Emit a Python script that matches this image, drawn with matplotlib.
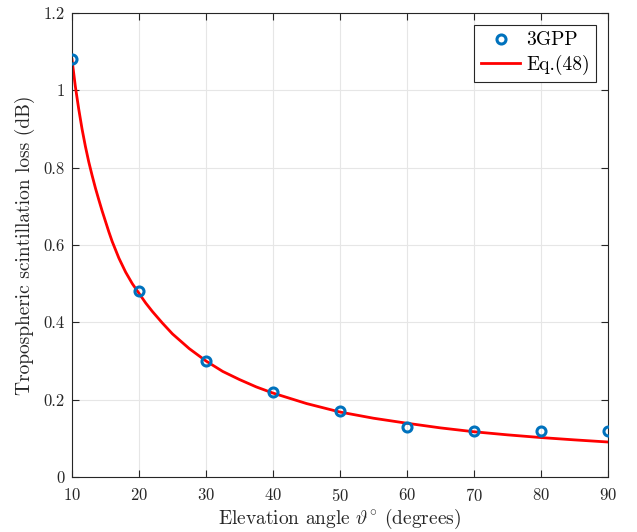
import matplotlib
matplotlib.use("Agg")
import matplotlib.pyplot as plt

plt.rcParams['font.family'] = 'serif'
plt.rcParams['font.serif'] = ['cmr10', 'DejaVu Serif']
plt.rcParams['mathtext.fontset'] = 'cm'
plt.rcParams['axes.formatter.use_mathtext'] = True

elev_3gpp = [10, 20, 30, 40, 50, 60, 70, 80, 90]
loss_3gpp = [1.08, 0.48, 0.30, 0.22, 0.17, 0.13, 0.12, 0.12, 0.12]

elev_eq = [10, 10.5, 11, 11.5, 12, 12.5, 13, 13.5, 14, 14.5, 15, 15.5, 16, 17,
           18, 19, 20, 21, 22, 23.5, 25, 27.5, 30, 32.5, 35, 37.5, 40,
           45, 50, 55, 60, 65, 70, 75, 80, 85, 90]
loss_eq = [1.08, 1.01, 0.952, 0.9, 0.855, 0.815, 0.78, 0.747, 0.717, 0.688,
           0.661, 0.634, 0.609, 0.566, 0.53, 0.5, 0.475, 0.45, 0.428, 0.398,
           0.37, 0.332, 0.30, 0.273, 0.252, 0.233, 0.217, 0.19, 0.168, 0.152,
           0.139, 0.127, 0.117, 0.109, 0.102, 0.096, 0.0905]

xticks = [10, 20, 30, 40, 50, 60, 70, 80, 90]
yticks = [0, 0.2, 0.4, 0.6, 0.8, 1.0, 1.2]
yticklabels = ['0', '0.2', '0.4', '0.6', '0.8', '1', '1.2']

fig = plt.figure(figsize=(6.37, 5.32), dpi=100)
ax = fig.add_axes([72/637, 1-477/532, (608-72)/637, (477-13)/532])

ax.plot(elev_3gpp, loss_3gpp, 'o', mfc='none', mec='#0072BD', mew=2.2, ms=6.5,
        label='3GPP', zorder=3)
ax.plot(elev_eq, loss_eq, '-', color='red', lw=2, label='Eq.(48)', zorder=2,
        solid_joinstyle='round')

ax.set_xlim(10, 90)
ax.set_ylim(0, 1.2)
ax.set_xticks(xticks)
ax.set_yticks(yticks)
ax.set_yticklabels(yticklabels)
ax.tick_params(direction='in', top=True, right=True, labelsize=12, length=5,
               width=0.8, colors='#262626')
ax.tick_params(axis='x', pad=7)
ax.tick_params(axis='y', pad=5)
ax.grid(True, color='#e6e6e6', lw=0.8)
ax.set_axisbelow(True)
for s in ax.spines.values():
    s.set_color('#262626')
    s.set_linewidth(0.8)

ax.set_xlabel(r'Elevation angle $\vartheta^{\circ}$ (degrees)', fontsize=14,
              color='#262626', labelpad=2)
ax.set_ylabel('Tropospheric scintillation loss (dB)', fontsize=14,
              color='#262626', labelpad=6)

leg = ax.legend(loc='upper right', fontsize=14, fancybox=False, framealpha=1,
                edgecolor='#262626', borderaxespad=0.6, handlelength=2.0,
                handletextpad=0.3, borderpad=0.35, labelspacing=0.3)
leg.get_frame().set_linewidth(0.8)

fig.savefig('out.png', dpi=100)
